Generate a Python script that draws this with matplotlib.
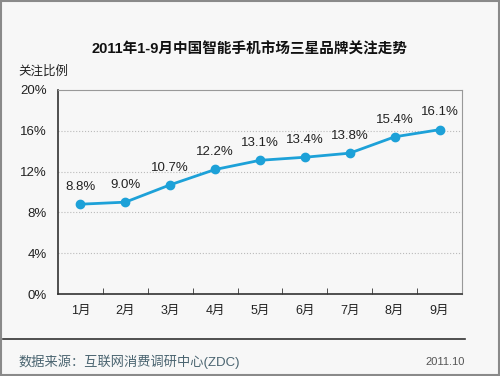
import matplotlib
matplotlib.use('Agg')
import matplotlib.pyplot as plt
from matplotlib.lines import Line2D
from matplotlib.patches import Rectangle

plt.rcParams['font.family'] = ['Liberation Sans', 'Noto Sans CJK SC', 'DejaVu Sans']

months = ['1月', '2月', '3月', '4月', '5月', '6月', '7月', '8月', '9月']
share = [8.8, 9.0, 10.7, 12.2, 13.1, 13.4, 13.8, 15.4, 16.1]
yticks = [0, 4, 8, 12, 16, 20]

bg = '#f7f7f7'
fig = plt.figure(figsize=(5, 3.76), dpi=100, facecolor=bg)
fig.patches.append(Rectangle((0.002, 0.002), 0.996, 0.996, transform=fig.transFigure,
                             fill=False, edgecolor='#8a8a8a', linewidth=1.5))

ax = fig.add_axes([0.116, 0.218, 0.808, 0.543], facecolor=bg)
x = list(range(len(months)))
ax.plot(x, share, color='#1da1d8', linewidth=2, marker='o', markersize=6, zorder=3)
for xi, v in zip(x, share):
    ax.text(xi, v + 1.1, f'{v:.1f}%', ha='center', va='bottom', fontsize=9.5, color='#222222')

ax.set_xlim(-0.5, len(months) - 0.5)
ax.set_ylim(0, 20)
ax.set_yticks(yticks)
ax.set_yticklabels([f'{t}%' for t in yticks], fontsize=9.5, color='#222222')
ax.set_xticks(x)
ax.set_xticklabels(months, fontsize=9, color='#222222')
ax.tick_params(axis='x', length=0, pad=8)
ax.tick_params(axis='y', length=0, pad=8)
ax.set_xticks([i + 0.5 for i in x[:-1]], minor=True)
ax.tick_params(axis='x', which='minor', direction='in', length=4, color='#333333')
for t in yticks[1:-1]:
    ax.axhline(t, color='#bbbbbb', linestyle=':', linewidth=0.8, zorder=1)
ax.spines['left'].set_color('#333333')
ax.spines['bottom'].set_color('#333333')
ax.spines['left'].set_linewidth(1.2)
ax.spines['bottom'].set_linewidth(1.2)
ax.spines['top'].set_color('#999999')
ax.spines['right'].set_color('#999999')

fig.text(0.5, 0.868, '2011年1-9月中国智能手机市场三星品牌关注走势', ha='center', va='center',
         fontsize=10.5, fontweight='bold', color='#111111')
fig.text(0.036, 0.81, '关注比例', ha='left', va='center', fontsize=9, color='#222222')

fig.lines.append(Line2D([0.006, 0.93], [0.098, 0.098], transform=fig.transFigure,
                        color='#333333', linewidth=1.2))
fig.text(0.036, 0.038, '数据来源：互联网消费调研中心(ZDC)', ha='left', va='center',
         fontsize=9.5, color='#4a6470')
fig.text(0.93, 0.038, '2011.10', ha='right', va='center', fontsize=8, color='#555555')

fig.savefig('out.png', dpi=100, facecolor=bg)
